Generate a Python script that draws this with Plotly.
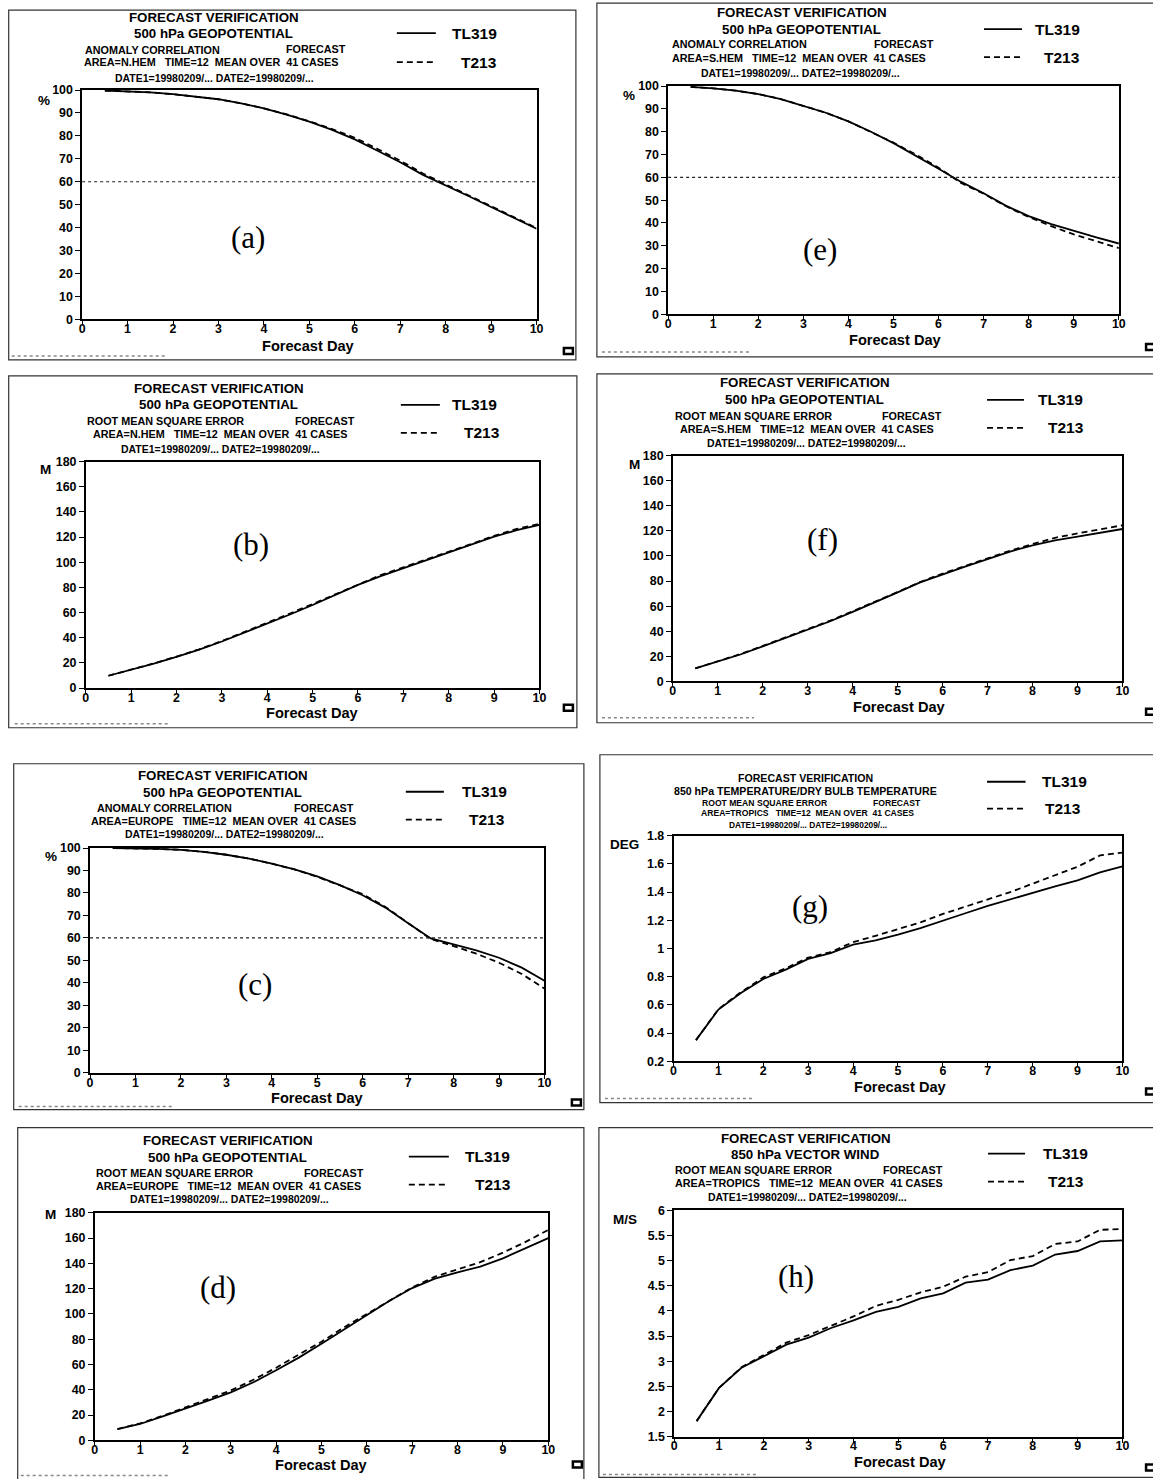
import plotly.graph_objects as go

W, H = 1153, 1479

# ---------------- DATA ----------------
days = [0.5, 1.0, 1.5, 2.0, 2.5, 3.0, 3.5, 4.0, 4.5, 5.0,
        5.5, 6.0, 6.5, 7.0, 7.5, 8.0, 8.5, 9.0, 9.5, 10.0]

x_ticks = [0, 1, 2, 3, 4, 5, 6, 7, 8, 9, 10]
acc_ticks = [0, 10, 20, 30, 40, 50, 60, 70, 80, 90, 100]
z_rms_ticks = [0, 20, 40, 60, 80, 100, 120, 140, 160, 180]
t_rms_ticks = [0.2, 0.4, 0.6, 0.8, 1.0, 1.2, 1.4, 1.6, 1.8]
t_rms_labels = ["0.2", "0.4", "0.6", "0.8", "1", "1.2", "1.4", "1.6", "1.8"]
w_rms_ticks = [1.5, 2.0, 2.5, 3.0, 3.5, 4.0, 4.5, 5.0, 5.5, 6.0]
w_rms_labels = ["1.5", "2", "2.5", "3", "3.5", "4", "4.5", "5", "5.5", "6"]

acc_threshold = 60

series_names = ["TL319", "T213"]

# (a) 500 hPa Z anomaly correlation, N.HEM
a_tl319 = [99.8, 99.5, 99.0, 98.2, 97.2, 96.0, 94.2, 92.0, 89.3, 86.2,
           82.6, 78.5, 73.5, 68.5, 63.0, 58.5, 53.8, 49.0, 44.2, 39.5]
a_t213 = [99.8, 99.5, 99.0, 98.2, 97.2, 96.0, 94.2, 92.0, 89.4, 86.4,
          83.0, 79.2, 74.3, 69.2, 63.6, 58.8, 54.0, 49.1, 44.4, 39.8]
# (b) 500 hPa Z RMS error, N.HEM
b_tl319 = [9.8, 14.5, 19.5, 24.8, 30.5, 37.0, 44.0, 51.0, 58.5, 66.0,
           74.0, 82.0, 89.0, 95.3, 101.5, 107.7, 114.0, 120.3, 125.5, 129.7]
b_t213 = [9.8, 14.5, 19.6, 25.0, 30.8, 37.4, 44.5, 51.6, 59.3, 66.8,
          74.6, 82.4, 89.8, 96.0, 102.0, 108.0, 114.5, 121.0, 126.5, 130.5]
# (c) 500 hPa Z anomaly correlation, EUROPE
c_tl319 = [100.0, 99.9, 99.6, 99.2, 98.3, 97.0, 95.3, 93.0, 90.5, 87.4,
           83.5, 79.0, 73.5, 66.5, 59.8, 57.2, 54.5, 51.2, 46.8, 41.0]
c_t213 = [100.0, 99.9, 99.6, 99.2, 98.3, 97.0, 95.3, 93.0, 90.5, 87.2,
          83.2, 79.5, 73.8, 66.5, 59.5, 56.4, 53.0, 49.0, 44.0, 37.5]
# (d) 500 hPa Z RMS error, EUROPE
d_tl319 = [9.0, 13.0, 19.0, 25.0, 31.5, 38.0, 46.0, 55.5, 65.5, 76.5,
           88.0, 99.5, 110.5, 120.5, 128.0, 133.0, 137.5, 144.0, 152.0, 160.0]
d_t213 = [9.0, 13.5, 19.5, 26.0, 32.5, 39.5, 48.0, 57.5, 68.0, 78.0,
          89.5, 100.0, 110.5, 121.0, 129.5, 135.5, 141.0, 148.5, 157.0, 166.5]
# (e) 500 hPa Z anomaly correlation, S.HEM
e_tl319 = [99.6, 99.0, 98.0, 96.5, 94.3, 91.3, 88.3, 84.5, 80.0, 75.0,
           69.5, 63.8, 58.0, 53.0, 47.5, 43.0, 39.5, 36.5, 33.7, 31.0]
e_t213 = [99.6, 99.0, 98.0, 96.5, 94.3, 91.3, 88.3, 84.5, 80.0, 75.2,
          69.9, 64.2, 57.5, 52.8, 47.3, 42.6, 38.6, 35.0, 32.0, 29.0]
# (f) 500 hPa Z RMS error, S.HEM
f_tl319 = [10.5, 16.0, 21.5, 28.0, 34.5, 41.0, 48.0, 55.5, 63.0, 71.0,
           79.0, 85.5, 91.5, 97.5, 103.5, 108.5, 112.5, 115.5, 118.5, 121.5]
f_t213 = [10.5, 16.0, 21.8, 28.3, 35.0, 41.5, 48.5, 56.0, 63.5, 71.3,
          79.3, 86.0, 92.0, 98.0, 104.2, 109.5, 114.5, 118.0, 121.5, 124.5]
# (g) 850 hPa temperature RMS error, TROPICS
g_tl319 = [0.35, 0.567, 0.685, 0.784, 0.85, 0.926, 0.968, 1.027, 1.058, 1.098,
           1.145, 1.195, 1.25, 1.303, 1.35, 1.398, 1.44, 1.483, 1.54, 1.583]
g_t213 = [0.35, 0.57, 0.69, 0.795, 0.86, 0.935, 0.975, 1.045, 1.09, 1.135,
          1.185, 1.245, 1.295, 1.35, 1.40, 1.46, 1.52, 1.58, 1.66, 1.68]
# (h) 850 hPa vector wind RMS error, TROPICS
h_tl319 = [1.81, 2.47, 2.87, 3.10, 3.33, 3.47, 3.66, 3.81, 3.98, 4.08,
           4.25, 4.35, 4.56, 4.62, 4.81, 4.90, 5.12, 5.19, 5.38, 5.40]
h_t213 = [1.81, 2.47, 2.88, 3.12, 3.37, 3.52, 3.70, 3.89, 4.10, 4.22,
          4.37, 4.48, 4.68, 4.77, 5.01, 5.09, 5.33, 5.38, 5.61, 5.63]

# ---------------- TEXT ----------------
NB = "\u00a0"
t_title = "FORECAST VERIFICATION"
t_z500 = "500 hPa GEOPOTENTIAL"
t_t850 = "850 hPa TEMPERATURE/DRY BULB TEMPERATURE"
t_w850 = "850 hPa VECTOR WIND"
t_acc = "ANOMALY CORRELATION"
t_rms = "ROOT MEAN SQUARE ERROR"
t_fc = "FORECAST"
t_dates = "DATE1=19980209/... DATE2=19980209/..."


def area_line(area):
    return ("AREA=" + area + NB * 3 + "TIME=12" + NB * 2 + "MEAN OVER" + NB * 2 + "41 CASES")


x_title = "Forecast Day"

# ---------------- LAYOUT (pixel geometry, in reference-picture pixels) ----------------
panels = [
    dict(lab="(a)", tl=a_tl319, t2=a_t213, yr=[0, 100], tv=acc_ticks, tt=None, thr=True,
         unit="%", l2=t_z500, l3=t_acc, area="N.HEM",
         px=(81.4, 535.7), py=(90, 319.3), box=(8, 10, 575, 360),
         t1=(213, 17), t2p=(213, 33), t3a=(82, 50), t3b=(283, 49), t4=(81, 62), t5=(112, 78),
         leg=(396, 435, 33, 449, 62, 458), up=(43, 100), xt=(308, 346), lp=(247, 238),
         fs=(13.3, 10.8), foot=(11, 164, 356), gl=(563, 572, 348, 354)),
    dict(lab="(b)", tl=b_tl319, t2=b_t213, yr=[0, 180], tv=z_rms_ticks, tt=None, thr=False,
         unit="M", l2=t_z500, l3=t_rms, area="N.HEM",
         px=(85, 538.6), py=(461.7, 688.3), box=(8, 376, 576, 728),
         t1=(218, 389), t2p=(218, 405), t3a=(84, 421), t3b=(292, 421), t4=(90, 434), t5=(118, 450),
         leg=(400, 439, 405, 449, 433, 461), up=(45, 470), xt=(312, 713), lp=(250, 545),
         fs=(13.3, 10.8), foot=(14, 168, 724), gl=(563, 572, 705, 711)),
    dict(lab="(c)", tl=c_tl319, t2=c_t213, yr=[0, 100], tv=acc_ticks, tt=None, thr=True,
         unit="%", l2=t_z500, l3=t_acc, area="EUROPE",
         px=(89.3, 543.6), py=(848.3, 1073.3), box=(13, 764, 583, 1110),
         t1=(222, 776), t2p=(222, 793), t3a=(94.6, 808), t3b=(291, 808), t4=(88.6, 821), t5=(122.5, 835),
         leg=(405, 443, 792, 459, 820, 466), up=(50, 857), xt=(317, 1098), lp=(254, 985),
         fs=(13.3, 10.8), foot=(18, 173, 1107), gl=(571, 580, 1100, 1106)),
    dict(lab="(d)", tl=d_tl319, t2=d_t213, yr=[0, 180], tv=z_rms_ticks, tt=None, thr=False,
         unit="M", l2=t_z500, l3=t_rms, area="EUROPE",
         px=(94, 547.4), py=(1213.3, 1441), box=(17, 1128, 583, 1490),
         t1=(227, 1141), t2p=(227, 1158), t3a=(93, 1173), t3b=(301, 1173), t4=(93, 1186), t5=(127, 1200),
         leg=(408, 448, 1157, 462, 1185, 472), up=(50, 1215), xt=(320.5, 1466), lp=(217, 1288),
         fs=(13.3, 10.8), foot=(20, 170, 1476), gl=(572, 581, 1462, 1468)),
    dict(lab="(e)", tl=e_tl319, t2=e_t213, yr=[0, 100], tv=acc_ticks, tt=None, thr=True,
         unit="%", l2=t_z500, l3=t_acc, area="S.HEM",
         px=(667.2, 1117.8), py=(86, 314.3), box=(596, 3, 1165, 357),
         t1=(801, 12), t2p=(801, 29), t3a=(669, 44), t3b=(871, 44), t4=(669, 58), t5=(698, 73),
         leg=(983, 1021, 29, 1032, 57, 1041), up=(628, 95), xt=(895, 340), lp=(819, 250),
         fs=(13.3, 10.8), foot=(601, 750, 352), gl=(1145, 1160, 344, 350)),
    dict(lab="(f)", tl=f_tl319, t2=f_t213, yr=[0, 180], tv=z_rms_ticks, tt=None, thr=False,
         unit="M", l2=t_z500, l3=t_rms, area="S.HEM",
         px=(671.9, 1121.4), py=(455.7, 681.7), box=(596, 374, 1165, 723),
         t1=(804, 383), t2p=(804, 400), t3a=(672, 416), t3b=(879, 416), t4=(677, 429), t5=(704, 444),
         leg=(986, 1023, 400, 1034.5, 428, 1045), up=(634, 465), xt=(899, 707.5), lp=(822, 540),
         fs=(13.3, 10.8), foot=(601, 753, 718), gl=(1145, 1160, 709, 715)),
    dict(lab="(g)", tl=g_tl319, t2=g_t213, yr=[0.2, 1.8], tv=t_rms_ticks, tt=t_rms_labels, thr=False,
         unit="DEG", l2=t_t850, l3=t_rms, area="TROPICS",
         px=(672.6, 1121.4), py=(836, 1061.7), box=(599, 755, 1165, 1103),
         t1=(805, 778), t2p=(805, 791), t3a=(699.5, 803), t3b=(870, 803), t4=(697.7, 813), t5=(726.4, 825),
         leg=(986, 1024.5, 782, 1039, 809, 1042.4), up=(624, 845), xt=(899.5, 1087), lp=(809, 907),
         fs=(10.6, 8.6), foot=(604, 753, 1099), gl=(1145, 1160, 1089, 1095)),
    dict(lab="(h)", tl=h_tl319, t2=h_t213, yr=[1.5, 6], tv=w_rms_ticks, tt=w_rms_labels, thr=False,
         unit="M/S", l2=t_w850, l3=t_rms, area="TROPICS",
         px=(673.3, 1121.4), py=(1210.7, 1437.3), box=(598, 1128, 1165, 1478),
         t1=(805, 1139), t2p=(805, 1155), t3a=(672, 1170), t3b=(880, 1170), t4=(672, 1183), t5=(705, 1198),
         leg=(987, 1024, 1154, 1040, 1182, 1045), up=(624.5, 1220), xt=(899.5, 1463), lp=(795, 1277),
         fs=(13.3, 10.8), foot=(602, 755, 1475), gl=(1145, 1160, 1465, 1471)),
]

SANS = "Liberation Sans"
SERIF = "Liberation Serif"
DASH = "6px,4px"

# the photographed page shows the figure slightly inset; compensate
CAL_AX, CAL_AY, CAL_B = 2.3, 6.9, 0.991


def fx(p):
    return ((p - CAL_AX) / CAL_B) / W


def fy(p):
    return 1 - ((p - CAL_AY) / CAL_B) / H


def bfont(size):
    return dict(family=SANS, size=size, color="black", weight="bold")


fig = go.Figure()
shapes = []
annotations = []
layout_axes = {}

for i, p in enumerate(panels):
    n = "" if i == 0 else str(i + 1)
    xref, yref = "x" + n, "y" + n

    fig.add_trace(go.Scatter(x=days, y=p["tl"], xaxis=xref, yaxis=yref, mode="lines",
                             name=series_names[0], showlegend=False,
                             line=dict(color="black", width=1.8)))
    fig.add_trace(go.Scatter(x=days, y=p["t2"], xaxis=xref, yaxis=yref, mode="lines",
                             name=series_names[1], showlegend=False,
                             line=dict(color="black", width=1.8, dash=DASH)))

    axis_common = dict(showline=True, linecolor="black", linewidth=1.6, mirror=True,
                       ticks="outside", tickwidth=1.2, tickcolor="black",
                       showgrid=False, zeroline=False, tickfont=bfont(12.4))
    layout_axes["xaxis" + n] = dict(axis_common, domain=[fx(p["px"][0]), fx(p["px"][1])],
                                    range=[0, 10], tickvals=x_ticks, anchor=yref,
                                    ticklen=4, ticklabelstandoff=-7)
    yax = dict(axis_common, domain=[fy(p["py"][1]), fy(p["py"][0])],
               range=p["yr"], tickvals=p["tv"], anchor=xref, ticklen=5)
    if p["tt"] is not None:
        yax["ticktext"] = p["tt"]
    layout_axes["yaxis" + n] = yax

    if p["thr"]:
        shapes.append(dict(type="line", xref=xref + " domain", yref=yref, x0=0, x1=1,
                           y0=acc_threshold, y1=acc_threshold,
                           line=dict(color="#222222", width=1.2, dash="dot")))

    # panel frame
    bx0, by0, bx1, by1 = p["box"]
    shapes.append(dict(type="rect", xref="paper", yref="paper",
                       x0=fx(bx0), x1=fx(bx1), y0=fy(by1), y1=fy(by0),
                       line=dict(color="#333333", width=1.2)))

    # header texts
    s1, s2 = p["fs"]
    annotations += [
        dict(text=t_title, x=fx(p["t1"][0]), y=fy(p["t1"][1]), xanchor="center", font=bfont(s1)),
        dict(text=p["l2"], x=fx(p["t2p"][0]), y=fy(p["t2p"][1]), xanchor="center", font=bfont(s1)),
        dict(text=p["l3"], x=fx(p["t3a"][0]), y=fy(p["t3a"][1]), xanchor="left", font=bfont(s2)),
        dict(text=t_fc, x=fx(p["t3b"][0]), y=fy(p["t3b"][1]), xanchor="left", font=bfont(s2)),
        dict(text=area_line(p["area"]), x=fx(p["t4"][0]), y=fy(p["t4"][1]), xanchor="left", font=bfont(s2)),
        dict(text=t_dates, x=fx(p["t5"][0]), y=fy(p["t5"][1]), xanchor="left", font=bfont(s2 * 0.97)),
    ]

    # legend
    lx0, lx1, ly1, tx1, ly2, tx2 = p["leg"]
    shapes.append(dict(type="line", xref="paper", yref="paper", x0=fx(lx0), x1=fx(lx1),
                       y0=fy(ly1), y1=fy(ly1), line=dict(color="black", width=1.8)))
    shapes.append(dict(type="line", xref="paper", yref="paper", x0=fx(lx0), x1=fx(lx1),
                       y0=fy(ly2), y1=fy(ly2), line=dict(color="black", width=1.8, dash=DASH)))
    annotations += [
        dict(text=series_names[0], x=fx(tx1), y=fy(ly1), xanchor="left", font=bfont(15.5)),
        dict(text=series_names[1], x=fx(tx2), y=fy(ly2), xanchor="left", font=bfont(15.5)),
    ]

    # unit, x title, panel label
    annotations += [
        dict(text=p["unit"], x=fx(p["up"][0]), y=fy(p["up"][1]), xanchor="center", font=bfont(13.5)),
        dict(text=x_title, x=fx(p["xt"][0]), y=fy(p["xt"][1]), xanchor="center", font=bfont(14.6)),
        dict(text=p["lab"], x=fx(p["lp"][0]), y=fy(p["lp"][1]), xanchor="center",
             font=dict(family=SERIF, size=31, color="black")),
    ]

    # faint footer stamp and corner glyph of the scanned page
    f0, f1, fyy = p["foot"]
    shapes.append(dict(type="line", xref="paper", yref="paper", x0=fx(f0), x1=fx(f1),
                       y0=fy(fyy), y1=fy(fyy), line=dict(color="#888888", width=1.5, dash="dot")))
    g0, g1, gy0, gy1 = p["gl"]
    shapes.append(dict(type="rect", xref="paper", yref="paper", x0=fx(g0), x1=fx(g1),
                       y0=fy(gy1), y1=fy(gy0), fillcolor="white",
                       line=dict(color="black", width=2.5)))

for a in annotations:
    a.update(xref="paper", yref="paper", yanchor="middle", showarrow=False)

fig.update_layout(
    autosize=True,
    margin=dict(l=0, r=0, t=0, b=0, pad=0),
    paper_bgcolor="white", plot_bgcolor="white",
    showlegend=False, hovermode=False,
    shapes=shapes, annotations=annotations,
    **layout_axes,
)

fig.write_html(
    "out.html",
    default_width="100vw",
    default_height="100vh",
    config={"displayModeBar": False, "responsive": True},
    post_script="document.body.style.margin='0';document.body.style.padding='0';"
                "document.documentElement.style.overflow='hidden';"
                "document.body.style.overflow='hidden';",
)
